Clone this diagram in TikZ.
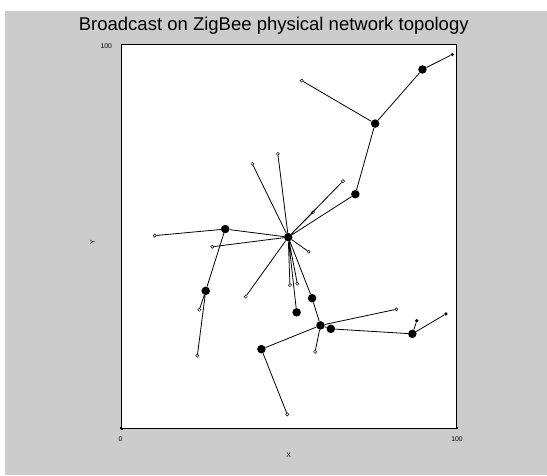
\documentclass[tikz,border=0pt]{standalone}
\usepackage{fontspec}
\setmainfont{Liberation Sans}
\usepackage{xcolor}
\usepackage{tikz}
\usetikzlibrary{positioning}

\definecolor{figgray}{gray}{0.8}

\begin{document}
\begin{tikzpicture}[x=1pt,y=1pt,font=\fontsize{6.8}{7}\selectfont,
   rtr/.style={circle,fill=black,inner sep=0pt,minimum size=8.5pt},
   leaf/.style={circle,draw,fill=white,line width=0.5pt,inner sep=0pt,minimum size=3.2pt},
   tip/.style={circle,fill=black,inner sep=0pt,minimum size=3.6pt},
   link/.style={line width=0.8pt}]
  \useasboundingbox (0,0) rectangle (547,475);
  \fill[figgray] (5,0) rectangle (547,464);
  \node[draw,line width=1pt,fill=white,inner sep=0pt,minimum width=335.5pt,
        minimum height=383.7pt,anchor=south west] (frame) at (120.5,46) {};
  \node[font=\fontsize{18.5}{20}\selectfont,above=6pt of frame.north,xshift=-15pt] (title)
       {Broadcast on ZigBee physical network topology};
  \node[left=5pt of frame.north west,yshift=-2pt] (y100) {100};
  \node[below=4pt of frame.south west] (x0) {0};
  \node[below=4pt of frame.south east] (x100) {100};
  \node[below=20pt of frame.south] (xlab) {X};
  \node[rotate=90,left=28pt of frame.west] (ylab) {Y};
  % small ticks
  \draw[line width=0.5pt] (frame.south west) -- ++(0,2) (frame.south east) -- ++(0,2)
       (frame.south west) -- ++(2,0) (frame.north west) -- ++(2,0);

  \begin{scope}[shift={(120.5,46)},x=3.355pt,y=3.837pt]
    % routers
    \node[rtr] (c) at (50,50) {};
    \node[rtr] (r1) at (31.2,52.1) {};
    \node[rtr] (r2) at (25.4,36.0) {};
    \node[rtr] (r3) at (52.5,30.4) {};
    \node[rtr] (r4) at (57.1,34.1) {};
    \node[rtr] (r5) at (70.0,61.2) {};
    \node[rtr] (r6) at (75.9,79.6) {};
    \node[rtr] (r7) at (90.0,93.7) {};
    \node[rtr] (r8) at (59.6,27.0) {};
    \node[rtr] (r9) at (62.7,26.1) {};
    \node[rtr] (r10) at (42.0,20.8) {};
    \node[rtr] (r11) at (87.0,24.8) {};
    % end devices
    \node[leaf] (e1) at (39.3,69.1) {};
    \node[leaf] (e2) at (46.9,71.7) {};
    \node[leaf] (e3) at (10.2,50.4) {};
    \node[leaf] (e4) at (27.4,47.5) {};
    \node[leaf] (e5) at (23.5,31.1) {};
    \node[leaf] (e6) at (22.9,19.1) {};
    \node[leaf] (e7) at (37.3,34.5) {};
    \node[leaf] (e8) at (50.5,37.5) {};
    \node[leaf] (e9) at (52.7,37.9) {};
    \node[leaf] (e10) at (56.1,46.2) {};
    \node[leaf] (e11) at (57.4,56.5) {};
    \node[leaf] (e12) at (66.3,64.6) {};
    \node[leaf] (e13) at (54.0,90.8) {};
    \node[leaf] (e14) at (82.2,31.2) {};
    \node[leaf] (e15) at (58.0,20.1) {};
    \node[leaf] (e16) at (49.7,3.8) {};
    \node[tip] (t1) at (98.9,97.6) {};
    \node[tip] (t2) at (88.3,28.2) {};
    \node[tip] (t3) at (97.0,30.0) {};
  \end{scope}

  \draw[link] (c) -- (e1) (c) -- (e2) (c) -- (r1) (c) -- (e4) (c) -- (e7)
              (c) -- (e8) (c) -- (e9) (c) -- (r3) (c) -- (r4) (c) -- (e10)
              (c) -- (e11) (c) -- (e12) (c) -- (r5);
  \draw[link] (r1) -- (e3) (r1) -- (r2) (r2) -- (e5) (r2) -- (e6);
  \draw[link] (r5) -- (r6) (r6) -- (e13) (r6) -- (r7) (r7) -- (t1);
  \draw[link] (r4) -- (r8) (r8) -- (e14) (r8) -- (e15) (r8) -- (r10)
              (r10) -- (e16) (r8) -- (r9) (r9) -- (r11) (r11) -- (t2) (r11) -- (t3);
\end{tikzpicture}
\end{document}
